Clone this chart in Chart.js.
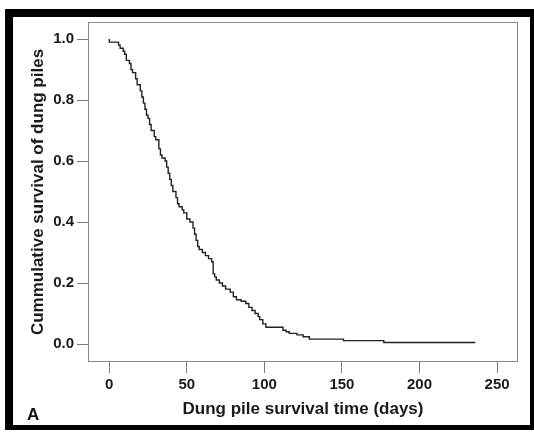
<!DOCTYPE html>
<html>
<head>
<meta charset="utf-8">
<script src="https://cdn.jsdelivr.net/npm/chart.js@4.4.1/dist/chart.umd.min.js"></script>
<style>
  html, body { margin: 0; padding: 0; background: #fff; }
  #wrap { position: relative; width: 534px; height: 432px; overflow: hidden; }
  #frame { position: absolute; left: 5px; top: 9px; width: 529px; height: 421px; background: #000; }
  #inner { position: absolute; left: 13px; top: 17px; width: 517px; height: 408px; background: #fff; }
  #survChart { position: absolute; left: 0; top: 0; }
  #panel { position: absolute; left: 27px; top: 405px; font: bold 17px "Liberation Sans", Arial, sans-serif; color: #111; }
</style>
</head>
<body>
<div id="wrap">
  <div id="frame"></div>
  <div id="inner"></div>
  <canvas id="survChart" width="534" height="432"></canvas>
  <div id="panel">A</div>
</div>
<script>
// Kaplan-Meier estimate
var days = [0, 6, 7, 9, 10, 11, 13, 14, 15, 17, 18, 20, 21, 22, 23, 24, 25, 26, 27, 29,
            30, 32, 33, 34, 36, 37, 38, 39, 40, 41, 43, 44, 45, 47, 48, 50, 52, 54, 55, 56,
            57, 58, 60, 62, 64, 66, 67, 68, 69, 71, 73, 75, 78, 80, 82, 85, 88, 90, 92, 94,
            96, 97, 99, 101, 112, 114, 116, 121, 125, 129, 151, 177, 180, 236];
var survival = [1.0, 0.99, 0.98, 0.97, 0.96, 0.95, 0.93, 0.92, 0.90, 0.89, 0.87, 0.85, 0.83, 0.81, 0.79, 0.77, 0.75, 0.74, 0.72, 0.70,
                0.68, 0.67, 0.64, 0.62, 0.61, 0.60, 0.58, 0.56, 0.54, 0.52, 0.50, 0.48, 0.46, 0.45, 0.44, 0.43, 0.41, 0.40, 0.38, 0.36,
                0.34, 0.32, 0.31, 0.30, 0.29, 0.28, 0.27, 0.23, 0.22, 0.21, 0.20, 0.19, 0.18, 0.17, 0.155, 0.145, 0.14, 0.133, 0.12, 0.11,
                0.10, 0.09, 0.08, 0.066, 0.055, 0.045, 0.04, 0.035, 0.03, 0.024, 0.016, 0.011, 0.005, 0.005];
var xTicks = [0, 50, 100, 150, 200, 250];
var yTicks = [0.0, 0.2, 0.4, 0.6, 0.8, 1.0];

var points = days.map(function (d, i) { return { x: d, y: survival[i] }; });

// box around the plot area
var boxPlugin = {
    id: 'box',
    afterDraw: function (chart) {
        var a = chart.chartArea, c = chart.ctx;
        c.save();
        c.strokeStyle = '#8a8a8a';
        c.lineWidth = 1;
        c.strokeRect(a.left + 0.5, a.top + 0.5, a.right - a.left - 1, a.bottom - a.top - 1);
        c.restore();
    }
};

var tickFont = { family: '"Liberation Sans", Arial, sans-serif', size: 15, weight: 'bold' };
var titleFont = { family: '"Liberation Sans", Arial, sans-serif', size: 17, weight: 'bold' };

var ctx = document.getElementById('survChart').getContext('2d');
var myChart = new Chart(ctx, {
    type: 'line',
    data: {
        datasets: [{
            label: 'Survival',
            data: points,
            stepped: 'after',
            borderColor: '#222222',
            borderWidth: 1.4,
            pointRadius: 0,
            fill: false
        }]
    },
    options: {
        responsive: false,
        animation: false,
        devicePixelRatio: 1,
        layout: { padding: { left: 0, top: 22, right: 16, bottom: 0 } },
        scales: {
            x: {
                type: 'linear',
                min: -13.7,
                max: 263.5,
                afterFit: function (s) { s.height = 70; },
                afterBuildTicks: function (s) { s.ticks = xTicks.map(function (v) { return { value: v }; }); },
                border: { display: false },
                grid: { drawOnChartArea: false, drawTicks: true, tickLength: 11, color: '#7a7a7a', lineWidth: 1 },
                ticks: { font: tickFont, color: '#1a1a1a', padding: 3, maxRotation: 0 },
                title: {
                    display: true,
                    text: 'Dung pile survival time (days)',
                    font: titleFont,
                    color: '#1a1a1a',
                    padding: { top: 0, bottom: 12 }
                }
            },
            y: {
                min: -0.059,
                max: 1.056,
                afterFit: function (s) { s.width = 88; },
                afterBuildTicks: function (s) { s.ticks = yTicks.map(function (v) { return { value: v }; }); },
                border: { display: false },
                grid: { drawOnChartArea: false, drawTicks: true, tickLength: 11, color: '#7a7a7a', lineWidth: 1 },
                ticks: {
                    font: tickFont,
                    color: '#1a1a1a',
                    padding: 3,
                    callback: function (v) { return v.toFixed(1); }
                },
                title: {
                    display: true,
                    text: 'Cummulative survival of dung piles',
                    font: titleFont,
                    color: '#1a1a1a',
                    padding: { top: 28, bottom: 0 }
                }
            }
        },
        plugins: {
            legend: { display: false },
            tooltip: { enabled: false }
        }
    },
    plugins: [boxPlugin]
});
</script>
</body>
</html>
